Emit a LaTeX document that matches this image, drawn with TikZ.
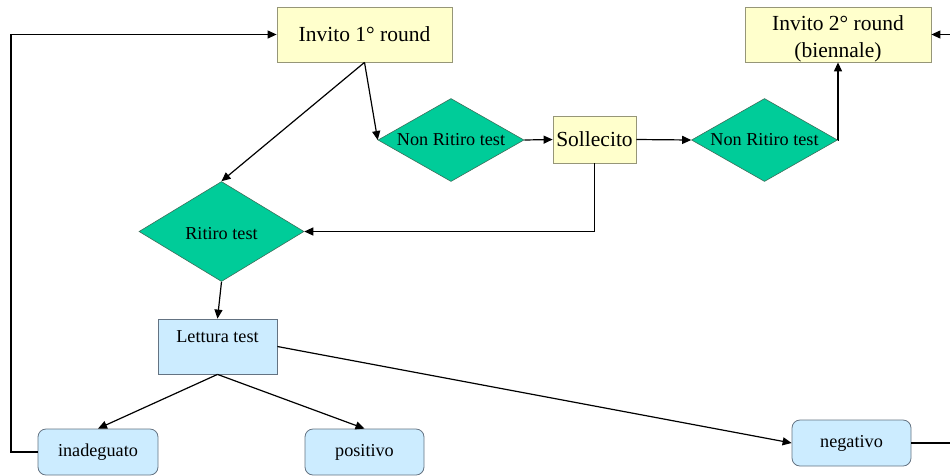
\documentclass[tikz,border=0pt]{standalone}
\usepackage{fontspec}
\setmainfont{Liberation Serif}
\usetikzlibrary{shapes.geometric,arrows.meta}
\definecolor{ylw}{RGB}{255,255,204}
\definecolor{ylwb}{RGB}{150,150,120}
\definecolor{grn}{RGB}{0,204,153}
\definecolor{grnb}{RGB}{60,110,90}
\definecolor{blu}{RGB}{204,236,255}
\definecolor{blub}{RGB}{100,115,130}
\tikzset{
  big/.style={font=\fontsize{21.5}{27}\selectfont},
  small/.style={font=\fontsize{18.2}{22}\selectfont},
  ybox/.style={draw=ylwb,fill=ylw,line width=0.8pt,inner sep=0pt,big,align=center},
  gdia/.style={diamond,draw=grnb,fill=grn,line width=0.6pt,inner sep=0pt,small},
  bbox/.style={draw=blub,fill=blu,line width=0.8pt,inner sep=0pt,small,align=center},
  rbox/.style={bbox,rounded corners=8pt},
  conn/.style={line width=1.2pt,-{Triangle[length=9pt,width=8pt]}},
}
\begin{document}
\begin{tikzpicture}[x=1pt,y=-1pt]
\path[use as bounding box] (0,0) rectangle (950,475);
\clip (0,0) rectangle (950,475);
\node[ybox,minimum width=175pt,minimum height=55pt] (inv1) at (364.5,34.5) {Invito 1° round};
\node[ybox,minimum width=186pt,minimum height=55pt] (inv2) at (838,34.5) {\rule{0pt}{23pt}Invito 2° round\\(biennale)};
\node[gdia,aspect=1.76,minimum width=146pt,minimum height=83pt] (nr1) at (451,140) {Non Ritiro test};
\node[ybox,minimum width=83pt,minimum height=47pt] (sol) at (594.5,139.5) {Sollecito};
\node[gdia,aspect=1.76,minimum width=146pt,minimum height=83pt] (nr2) at (764.5,140) {Non Ritiro test};
\node[gdia,aspect=1.64,minimum width=165pt,minimum height=100pt] (rit) at (221.5,231.5) {\rule{0pt}{16pt}Ritiro test};
\node[bbox,minimum width=119pt,minimum height=55pt] (let) at (217.5,346.5) {\rule{0pt}{21pt}Lettura test\\\strut};
\node[rbox,minimum width=120pt,minimum height=46pt] (ina) at (98,452) {inadeguato};
\node[rbox,minimum width=119pt,minimum height=46pt] (pos) at (364.5,452) {positivo};
\node[rbox,minimum width=119pt,minimum height=46pt] (neg) at (851.5,443) {negativo};
\coordinate (lft) at (11,0);
\coordinate (rgt) at (965,0);
\draw[conn] (inv1.south) -- (rit.north);
\draw[conn] (inv1.south) -- (nr1.west);
\draw[conn] (nr1.east) -- (sol.west);
\draw[conn] (sol.east) -- (nr2.west);
\draw[conn] (nr2.east) -| (inv2.south);
\draw[conn] (sol.south) |- (rit.east);
\draw[conn] (rit.south) -- (let.north);
\draw[conn] (let.south) -- (ina.north);
\draw[conn] (let.south) -- (pos.north);
\draw[conn] (let.east) -- (neg.west);
\draw[conn] (ina.west) -| (lft |- inv1.west) -- (inv1.west);
\draw[conn] (neg.east) -| (rgt |- inv2.east) -- (inv2.east);
\end{tikzpicture}
\end{document}
